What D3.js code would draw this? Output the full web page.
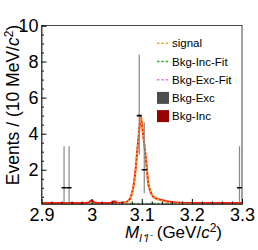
<!DOCTYPE html>
<html>
<head>
<meta charset="utf-8">
<script src="https://cdn.jsdelivr.net/npm/d3@7"></script>
<style>
  body { margin: 0; background: #fff; }
  svg { font-family: "Liberation Sans", Arial, sans-serif; }
</style>
</head>
<body>
<svg id="chart" width="258" height="250"></svg>
<script>
// data points (10 MeV bins) with Poisson errors
const dataX = [2.945, 2.955, 3.095, 3.105, 3.295];
const dataY = [1, 1, 5, 2, 1];
const dataLo = [0.173, 0.173, 2.84, 0.708, 0.173];
const dataHi = [3.3, 3.3, 8.382, 4.638, 3.3];

// total fit curve (red)
const totalX = [2.9, 2.98, 2.993, 3.0, 3.007, 3.02, 3.038, 3.045, 3.052, 3.06, 3.07, 3.076, 3.081, 3.085, 3.088, 3.091, 3.094, 3.0965, 3.098, 3.1, 3.103, 3.1066, 3.11, 3.113, 3.118, 3.123, 3.13, 3.14, 3.155, 3.17, 3.2, 3.25, 3.3];
const totalY = [0.15, 0.15, 0.17, 0.3, 0.17, 0.15, 0.16, 0.24, 0.16, 0.17, 0.22, 0.36, 0.75, 1.35, 2.1, 3.05, 3.9, 4.6, 4.95, 4.6, 3.9, 3.05, 2.1, 1.25, 0.75, 0.5, 0.4, 0.32, 0.22, 0.18, 0.15, 0.15, 0.15];

// signal curve (orange dashed)
const sigX = [3.05, 3.06, 3.07, 3.076, 3.081, 3.085, 3.088, 3.091, 3.094, 3.0965, 3.098, 3.1, 3.103, 3.1066, 3.11, 3.113, 3.118, 3.123, 3.13, 3.14, 3.155, 3.17, 3.2];
const sigY = [0.1, 0.12, 0.2, 0.34, 0.73, 1.33, 2.08, 3.03, 3.88, 4.58, 4.93, 4.58, 3.88, 3.03, 2.08, 1.23, 0.73, 0.48, 0.37, 0.28, 0.18, 0.13, 0.1];

// background fits (flat, at the floor)
const incFitX = [2.9, 3.3];
const incFitY = [0.13, 0.13];
const excFitX = [2.9, 3.3];
const excFitY = [0.11, 0.11];

// Bkg-Inc histogram bins
const bkgIncX0 = [3.04];
const bkgIncY = [0.28];

const legendLabels = ["signal", "Bkg-Inc-Fit", "Bkg-Exc-Fit", "Bkg-Exc", "Bkg-Inc"];
const legendKinds = ["line", "line", "line", "box", "box"];
const legendColors = ["#f5a623", "#22bb22", "#ee77ee", "#4d4d4d", "#990000"];

const xTicks = [2.9, 3.0, 3.1, 3.2, 3.3];
const yTicks = [2, 4, 6, 8, 10];

const svg = d3.select("#chart"),
  mLeft = 41.5, mRight = 242, mTop = 25.5, mBottom = 204;

const x = d3.scaleLinear().domain([2.9, 3.3]).range([mLeft, mRight]);
const y = d3.scaleLinear().domain([0.1, 10]).range([mBottom, mTop]);

svg.append("defs").append("clipPath").attr("id", "clip")
  .append("rect").attr("x", mLeft).attr("y", mTop)
  .attr("width", mRight - mLeft).attr("height", mBottom - mTop);

const plot = svg.append("g").attr("clip-path", "url(#clip)");

// Bkg-Inc histogram
plot.selectAll("rect.inc")
  .data(bkgIncX0)
  .enter()
  .append("rect")
  .attr("x", (d) => x(d))
  .attr("width", (d) => x(d + 0.01) - x(d))
  .attr("y", (d, i) => y(bkgIncY[i]))
  .attr("height", (d, i) => y(0.1) - y(bkgIncY[i]))
  .attr("fill", "#990000");

const line = d3.line().curve(d3.curveMonotoneX);

function drawCurve(xs, ys, color, dash, w) {
  plot.append("path")
    .attr("d", line(xs.map((d, i) => [x(d), y(ys[i])])))
    .attr("fill", "none")
    .attr("stroke", color)
    .attr("stroke-width", w)
    .attr("stroke-dasharray", dash);
}

drawCurve(excFitX, excFitY, "#ee77ee", "3,2", 1.5);
drawCurve(incFitX, incFitY, "#22bb22", "2,2", 1.5);
drawCurve(totalX, totalY, "#ff1a00", null, 2);
drawCurve(sigX, sigY, "#f7b030", "2,2", 1.8);

// data points
const pts = plot.selectAll("g.pt")
  .data(dataX)
  .enter()
  .append("g");
pts.append("line")
  .attr("x1", (d) => x(d)).attr("x2", (d) => x(d))
  .attr("y1", (d, i) => y(dataHi[i]))
  .attr("y2", (d, i) => y(dataLo[i]))
  .attr("stroke", "#888")
  .attr("stroke-width", 1.2);
pts.append("line")
  .attr("x1", (d) => x(d - 0.005)).attr("x2", (d) => x(d + 0.005))
  .attr("y1", (d, i) => y(dataY[i]))
  .attr("y2", (d, i) => y(dataY[i]))
  .attr("stroke", "#000")
  .attr("stroke-width", 1.6);

// frame
svg.append("rect")
  .attr("x", mLeft).attr("y", mTop)
  .attr("width", mRight - mLeft).attr("height", mBottom - mTop)
  .attr("fill", "none").attr("stroke", "#444").attr("stroke-width", 1);

// axes with inward ticks
const xMinor = d3.range(2.92, 3.3, 0.02).filter((d) => Math.abs(d * 10 - Math.round(d * 10)) > 0.01);
svg.append("g")
  .attr("transform", `translate(0,${mBottom})`)
  .call(d3.axisBottom(x).tickValues(xMinor).tickSize(-2.5).tickFormat(""))
  .call((g) => g.select(".domain").remove());
const xAxis = svg.append("g")
  .attr("transform", `translate(0,${mBottom})`)
  .call(d3.axisBottom(x).tickValues(xTicks).tickSize(-5).tickPadding(4.5).tickFormat(d3.format("~g")));
xAxis.select(".domain").attr("stroke", "#444");
xAxis.selectAll("text").style("font-size", "18px").attr("fill", "#000");

const yMinor = d3.range(0.5, 10, 0.5).filter((d) => d % 2 !== 0);
svg.append("g")
  .attr("transform", `translate(${mLeft},0)`)
  .call(d3.axisLeft(y).tickValues(yMinor).tickSize(-2.5).tickFormat(""))
  .call((g) => g.select(".domain").remove());
const yAxis = svg.append("g")
  .attr("transform", `translate(${mLeft},0)`)
  .call(d3.axisLeft(y).tickValues(yTicks).tickSize(-5).tickPadding(3));
yAxis.select(".domain").attr("stroke", "#444");
yAxis.selectAll("text").style("font-size", "18px").attr("fill", "#000");

// axis titles
const yt = svg.append("text")
  .attr("transform", "translate(19,105) rotate(-90)")
  .attr("text-anchor", "middle")
  .style("font-size", "17.5px");
yt.append("tspan").text("Events / (10 MeV/");
yt.append("tspan").style("font-style", "italic").text("c");
yt.append("tspan").attr("dy", -6).style("font-size", "12px").text("2");
yt.append("tspan").attr("dy", 6).text(")");

const xt = svg.append("text")
  .attr("x", 222).attr("y", 238)
  .attr("text-anchor", "end")
  .style("font-size", "17px");
xt.append("tspan").style("font-style", "italic").text("M");
xt.append("tspan").attr("dy", 4).style("font-size", "11px").style("font-style", "italic").text("l⁺l⁻");
xt.append("tspan").attr("dy", -4).text(" (GeV/");
xt.append("tspan").style("font-style", "italic").text("c");
xt.append("tspan").attr("dy", -6).style("font-size", "12px").text("2");
xt.append("tspan").attr("dy", 6).text(")");

// legend
const leg = svg.append("g").selectAll("g")
  .data(legendLabels)
  .enter()
  .append("g")
  .attr("transform", (d, i) => `translate(157,${43.3 + i * 18.2})`);
leg.filter((d, i) => legendKinds[i] === "line")
  .append("line")
  .attr("x1", 0).attr("x2", 13)
  .attr("stroke", (d) => legendColors[legendLabels.indexOf(d)])
  .attr("stroke-width", 1.5)
  .attr("stroke-dasharray", "2.5,1.8");
leg.filter((d, i) => legendKinds[i] === "box")
  .append("rect")
  .attr("x", 0).attr("y", -6).attr("width", 12).attr("height", 12)
  .attr("fill", (d) => legendColors[legendLabels.indexOf(d)]);
leg.append("text")
  .attr("x", 15).attr("dy", "0.35em")
  .style("font-size", "11.5px")
  .text((d) => d);
</script>
</body>
</html>
